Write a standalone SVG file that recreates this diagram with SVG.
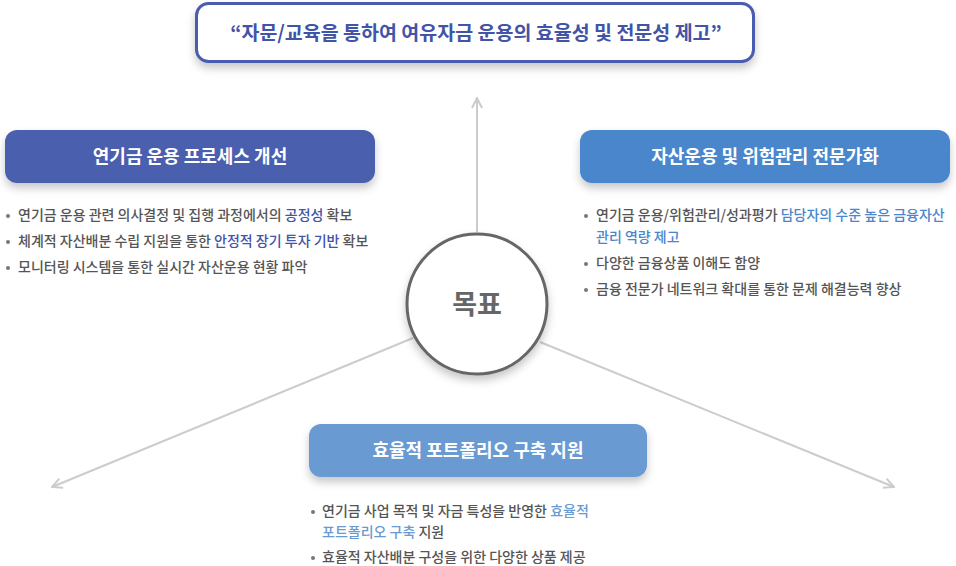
<svg xmlns="http://www.w3.org/2000/svg" width="956" height="566" viewBox="0 0 956 566">
<style>
text{font-family:"Noto Sans CJK KR","Noto Sans",sans-serif;}
.hd{fill:#fff;font-size:18px;font-weight:700;text-anchor:middle;}
.b{fill:#555;font-size:14px;font-weight:500;}
.dot{fill:#777;}
.c1{fill:#4254a8;}
.c2{fill:#4a86cc;}
.c3{fill:#6a9ad2;}
.con{stroke:#cccccc;stroke-width:2;fill:none;}
</style>
<defs>
<filter id="sh" x="-10%" y="-30%" width="120%" height="190%">
<feDropShadow dx="0" dy="5" stdDeviation="4" flood-color="#000" flood-opacity="0.22"/>
</filter>
<marker id="ar" viewBox="0 0 12 12" refX="11" refY="6" markerWidth="12" markerHeight="12" markerUnits="userSpaceOnUse" orient="auto">
<path d="M1,1 L11,6 L1,11" fill="none" stroke="#cccccc" stroke-width="2"/>
</marker>
</defs>
<g id="connectors">
<line class="con" x1="477" y1="232" x2="477" y2="98" marker-end="url(#ar)"/>
<line class="con" x1="413" y1="338" x2="52" y2="487" marker-end="url(#ar)"/>
<line class="con" x1="540" y1="342" x2="894" y2="487" marker-end="url(#ar)"/>
</g>
<g id="goal-title">
<rect x="196.5" y="3.5" width="557" height="58" rx="12" fill="#fff" stroke="#4a5bb0" stroke-width="3" filter="url(#sh)"/>
<text x="476" y="40" font-size="19.5" font-weight="700" fill="#4254a8" text-anchor="middle">“자문/교육을 통하여 여유자금 운용의 효율성 및 전문성 제고”</text>
</g>
<g id="center">
<circle cx="477" cy="304" r="70" fill="#fff" stroke="#666" stroke-width="3" filter="url(#sh)"/>
<text x="477" y="314" font-size="27" font-weight="700" fill="#666" text-anchor="middle">목표</text>
</g>
<g id="process">
<rect x="5" y="130" width="370" height="53" rx="12" fill="#4b5eaf" filter="url(#sh)"/>
<text class="hd" x="190" y="163">연기금 운용 프로세스 개선</text>
<circle class="dot" cx="8" cy="216" r="2"/>
<text class="b" x="18" y="220">연기금 운용 관련 의사결정 및 집행 과정에서의 <tspan class="c1">공정성</tspan> 확보</text>
<circle class="dot" cx="8" cy="242" r="2"/>
<text class="b" x="18" y="246">체계적 자산배분 수립 지원을 통한 <tspan class="c1">안정적 장기 투자 기반</tspan> 확보</text>
<circle class="dot" cx="8" cy="268" r="2"/>
<text class="b" x="18" y="272">모니터링 시스템을 통한 실시간 자산운용 현황 파악</text>
</g>
<g id="expertise">
<rect x="580" y="130" width="370" height="53" rx="12" fill="#4a86cc" filter="url(#sh)"/>
<text class="hd" x="765" y="163">자산운용 및 위험관리 전문가화</text>
<circle class="dot" cx="586" cy="216" r="2"/>
<text class="b" x="596" y="220">연기금 운용/위험관리/성과평가 <tspan class="c2">담당자의 수준 높은 금융자산</tspan></text>
<text class="b c2" x="596" y="242">관리 역량 제고</text>
<circle class="dot" cx="586" cy="264" r="2"/>
<text class="b" x="596" y="268">다양한 금융상품 이해도 함양</text>
<circle class="dot" cx="586" cy="290" r="2"/>
<text class="b" x="596" y="294">금융 전문가 네트워크 확대를 통한 문제 해결능력 향상</text>
</g>
<g id="portfolio">
<rect x="309" y="424" width="338" height="53" rx="12" fill="#6a9ad2" filter="url(#sh)"/>
<text class="hd" x="478" y="457">효율적 포트폴리오 구축 지원</text>
<circle class="dot" cx="313" cy="512" r="2"/>
<text class="b" x="322" y="516">연기금 사업 목적 및 자금 특성을 반영한 <tspan class="c3">효율적</tspan></text>
<text class="b c3" x="322" y="537">포트폴리오 구축 <tspan fill="#555">지원</tspan></text>
<circle class="dot" cx="313" cy="558" r="2"/>
<text class="b" x="322" y="562">효율적 자산배분 구성을 위한 다양한 상품 제공</text>
</g>
</svg>
